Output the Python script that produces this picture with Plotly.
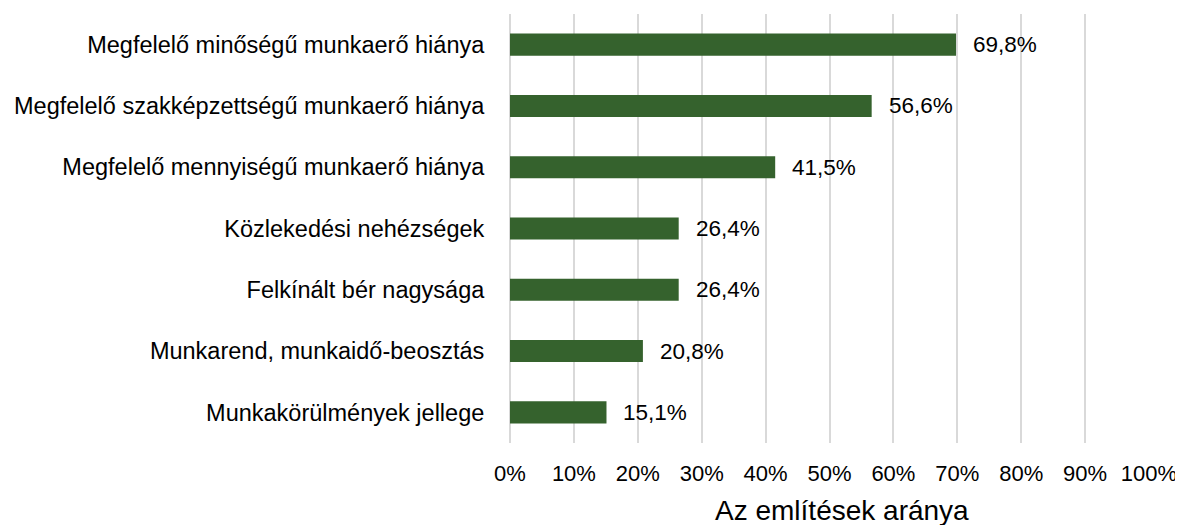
import plotly.graph_objects as go

# Categories and values (percent of mentions)
categories = [
    "Megfelelő minőségű munkaerő hiánya",
    "Megfelelő szakképzettségű munkaerő hiánya",
    "Megfelelő mennyiségű munkaerő hiánya",
    "Közlekedési nehézségek",
    "Felkínált bér nagysága",
    "Munkarend, munkaidő-beosztás",
    "Munkakörülmények jellege",
]
values = [69.8, 56.6, 41.5, 26.4, 26.4, 20.8, 15.1]
tick_vals = list(range(0, 101, 10))
tick_text = [f"{v}%" for v in tick_vals]

font_family = "Liberation Sans, Arial, sans-serif"
bar_color = "#35622d"

fig = go.Figure()
fig.add_trace(go.Bar(
    x=values, y=categories, orientation="h",
    marker=dict(color=bar_color, line=dict(width=0)),
    width=0.36,
))

# Data labels right of each bar
for cat, val in zip(categories, values):
    fig.add_annotation(
        x=val, y=cat, xref="x", yref="y",
        text=f"{val:.1f}%".replace(".", ","),
        showarrow=False, xanchor="left", yanchor="middle", xshift=15,
        font=dict(size=22.5, color="#000000", family=font_family),
    )

# Axis title (page body adds an 8px offset, so the figure is sized to fit)
fig.add_annotation(
    x=0.52, y=0, xref="paper", yref="paper",
    text="Az említések aránya", showarrow=False,
    xanchor="center", yanchor="top", yshift=-50,
    font=dict(size=28, color="#000000", family=font_family),
)

fig.update_layout(
    width=1175, height=517,
    margin=dict(l=500, r=33, t=6, b=82),
    plot_bgcolor="white", paper_bgcolor="white",
    font=dict(family=font_family, size=22, color="#000000"),
    showlegend=False,
    xaxis=dict(
        range=[0, 100], tickvals=tick_vals, ticktext=tick_text,
        showgrid=True, gridcolor="#d9d9d9", gridwidth=1.5,
        zeroline=True, zerolinecolor="#d9d9d9", zerolinewidth=1.5,
        showline=False,
        ticks="outside", ticklen=11, tickcolor="rgba(0,0,0,0)",
        tickfont=dict(size=22),
    ),
    yaxis=dict(
        autorange="reversed", showgrid=False, showline=False,
        ticks="outside", ticklen=20, tickcolor="rgba(0,0,0,0)",
        tickfont=dict(size=23.5),
    ),
)

fig.write_html("out.html")
